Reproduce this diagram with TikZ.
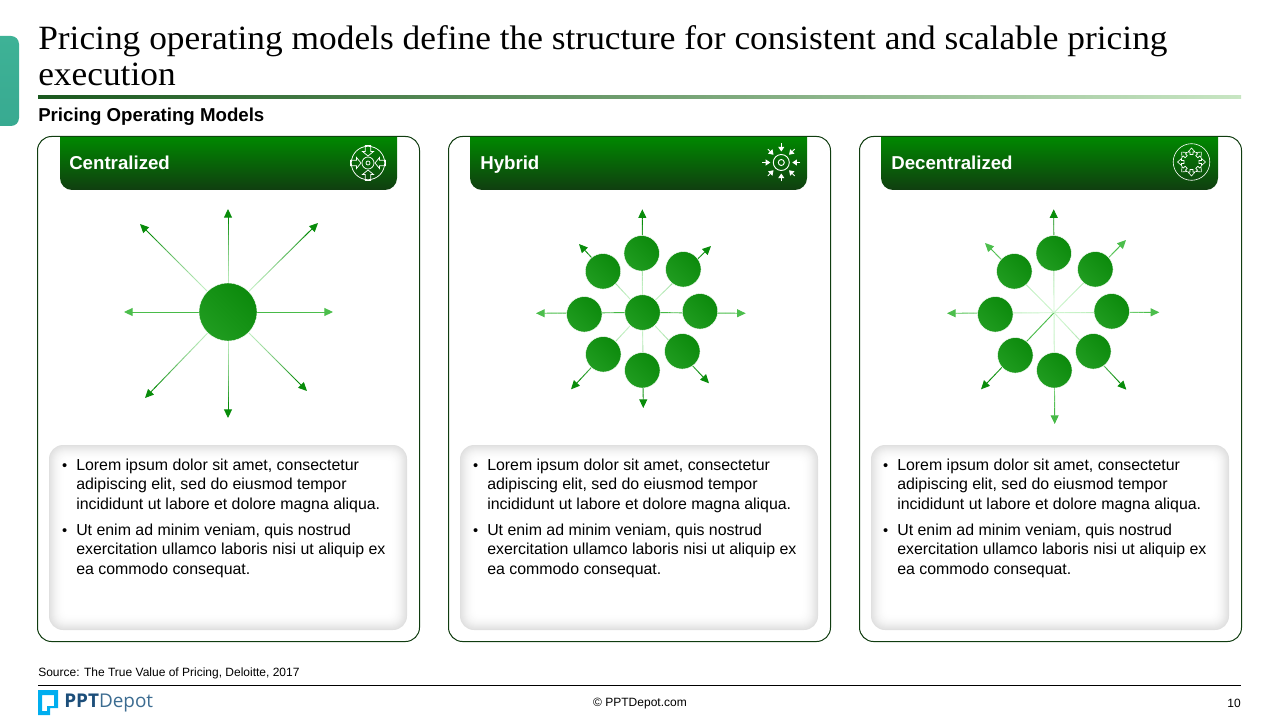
\documentclass[tikz,border=0pt]{standalone}
\usepackage{fontspec}
\setmainfont{Liberation Sans}
\newfontfamily\serifttl[FakeStretch=1.04]{Liberation Serif}
\newfontfamily\logofont{Open Sans}
\usetikzlibrary{arrows.meta,calc}
\definecolor{gdark}{RGB}{8,140,10}
\definecolor{gmid}{RGB}{76,190,76}
\definecolor{glight}{RGB}{205,245,205}
\definecolor{gmed}{RGB}{70,185,70}
\definecolor{panelline}{RGB}{16,60,16}
\definecolor{discA}{RGB}{12,138,12}
\definecolor{discB}{RGB}{32,156,32}
\definecolor{boxgray}{RGB}{224,224,224}
\definecolor{tabA}{RGB}{62,178,150}
\definecolor{tabB}{RGB}{56,170,145}
\definecolor{ruleA}{RGB}{26,88,30}
\definecolor{ruleB}{RGB}{105,170,105}
\definecolor{ruleC}{RGB}{200,230,195}
\definecolor{headA}{RGB}{0,136,0}
\definecolor{headB}{RGB}{16,62,16}
\definecolor{logocyan}{RGB}{0,174,239}
\definecolor{logoA}{RGB}{28,78,122}
\definecolor{logoB}{RGB}{60,108,145}
\pgfdeclarelayer{bg}
\pgfsetlayers{bg,main}
\tikzset{
  x=0.75pt,y=-0.75pt,
  panelbox/.style={draw=panelline,line width=0.75pt,rounded corners=10.5pt},
  headlabel/.style={anchor=base west,inner sep=0,text=white,font=\fontsize{14}{16}\selectfont\bfseries},
  disc/.style={circle,minimum size=26.6pt,inner sep=0,draw=white,line width=0.3pt,shading=axis,left color=discA,right color=discB,shading angle=315},
  bigdisc/.style={disc,minimum size=43.5pt},
  icon/.style={draw=white,line width=0.55pt},
  bodytext/.style={anchor=north west,inner sep=0,align=left,font=\fontsize{11.92}{14.55}\selectfont},
}
% gradient connector: from node/coordinate #1 to #2, colours #3 -> #4
\newcommand{\gconn}[4]{%
  \begin{pgfonlayer}{bg}
  \foreach \i [evaluate=\i as \p using int((\i/17)*(\i/17)*100), evaluate=\i as \q using (\i+1)/20, evaluate=\i as \r using \i/20] in {0,...,17}{%
    \draw[line width=0.7pt,color=#4!\p!#3] ($(#1)!\r!(#2)$) -- ($(#1)!\q!(#2)$);
  }
  \draw[line width=0.7pt,color=#4,-{Triangle[length=6.5pt,width=6pt]}] ($(#1)!0.9!(#2)$) -- (#2);
  \end{pgfonlayer}}
\newcommand{\softbox}[4]{%
  \foreach \k in {0,...,16}{%
    \pgfmathtruncatemacro\sh{100-100*(1-\k/16)*(1-\k/16)}
    \pgfmathsetmacro\rr{max(10.5-0.5*\k,3)}
    \draw[draw=none,fill=white!\sh!boxgray,rounded corners=\rr pt] (#1+\k,#2+\k) rectangle (#3-\k,#4-\k);
  }}
\newcommand{\bul}{\hspace*{-1.6pt}\makebox[10.6pt][l]{\fontsize{11}{11}\selectfont •}}
\newcommand{\loremtext}{%
\bul Lorem ipsum dolor sit amet, consectetur\\
\hspace*{9pt}adipiscing elit, sed do eiusmod tempor\\
\hspace*{9pt}incididunt ut labore et dolore magna aliqua.\\[5.2pt]
\bul Ut enim ad minim veniam, quis nostrud\\
\hspace*{9pt}exercitation ullamco laboris nisi ut aliquip ex\\
\hspace*{9pt}ea commodo consequat.}
\begin{document}
\begin{tikzpicture}
\useasboundingbox (0,0) rectangle (1280,720);
% tab
\begin{scope}
\clip (0,30) rectangle (19,130);
\path[shade,top color=tabA,bottom color=tabB,rounded corners=6pt] (-12,36) rectangle (19,126);
\end{scope}
% title
\node[anchor=north west,inner sep=0,align=left,font=\fontsize{25.5}{26.6}\selectfont\serifttl] (title) at (38,25.5) {Pricing operating models define the structure for consistent and scalable pricing\\execution};
\path[shade,left color=ruleA,middle color=ruleB,right color=ruleC] (38,96) rectangle (1241,99);
\node[anchor=base west,inner sep=0,font=\fontsize{14}{16}\selectfont\bfseries] (subt) at (38,122) {Pricing Operating Models};
% panels
\draw[panelbox] (37.5,136.5) rectangle (419.5,641.5);
\draw[panelbox] (448.5,136.5) rectangle (830.5,641.5);
\draw[panelbox] (859.5,136.5) rectangle (1241.5,641.5);
% headers
\foreach \hx in {60,470,881}{%
  \path[shade,top color=headA,bottom color=headB] (\hx,137) -- (\hx+337,137) [rounded corners=9pt] -- (\hx+337,190) -- (\hx,190) [sharp corners] -- cycle;
}
\node[headlabel] (h1) at (69,169.5) {Centralized};
\node[headlabel] (h2) at (480,169.5) {Hybrid};
\node[headlabel] (h3) at (891,169.5) {Decentralized};
% icon 1
\begin{scope}[shift={(368,163)}]
  \draw[icon] (0,0) circle (16.7);
  \draw[icon] (0,0) circle (6);
  \draw[icon] (0,0) circle (2);
  \foreach \a in {0,90,180,270}{%
    \draw[icon,fill=none,rotate=\a] (0,-7) -- (5.5,-11.5) -- (2.7,-11.5) -- (2.7,-17.5) -- (-2.7,-17.5) -- (-2.7,-11.5) -- (-5.5,-11.5) -- cycle;
  }
\end{scope}
% icon 2
\begin{scope}[shift={(781.3,162.5)}]
  \draw[icon,line width=0.7pt] (0,0) circle (8);
  \draw[icon,line width=0.7pt] (0,0) circle (3);
  \foreach \a in {0,45,...,315}{%
    \draw[icon,line width=0.6pt,rotate=\a,-{Triangle[length=3.5pt,width=4.5pt]}] (0,-19) -- (0,-11);
  }
\end{scope}
% icon 3
\begin{scope}[shift={(1191.5,162)}]
  \draw[icon,line width=0.45pt] (0,0) circle (18.3);
  \foreach \a in {0,45,...,315}{%
    \draw[icon,line width=0.45pt,rotate=\a] (-1.5,-7.5) -- (1.5,-7.5) -- (1.5,-10) -- (3.5,-10) -- (0,-14) -- (-3.5,-10) -- (-1.5,-10) -- cycle;
  }
\end{scope}
% centralized
\node[bigdisc] (c0) at (228,312) {};
\coordinate (ct1) at (228,209);\coordinate (ct2) at (318,223);\coordinate (ct3) at (333,312);\coordinate (ct4) at (307,391);
\coordinate (ct5) at (228,418);\coordinate (ct6) at (145,398);\coordinate (ct7) at (124,312);\coordinate (ct8) at (140,224);
\gconn{c0.center}{ct1}{glight}{gdark}\gconn{c0.center}{ct2}{glight}{gdark}\gconn{c0.center}{ct3}{gmed}{gmid}\gconn{c0.center}{ct4}{glight}{gdark}
\gconn{c0.center}{ct5}{glight}{gdark}\gconn{c0.center}{ct6}{glight}{gdark}\gconn{c0.center}{ct7}{gmed}{gmid}\gconn{c0.center}{ct8}{glight}{gdark}
% hybrid
\node[disc] (h0) at (642.5,312.5) {};
\node[disc] (hA) at (641.7,253.3) {};
\node[disc] (hB) at (683.3,269.3) {};
\node[disc] (hC) at (700,311.3) {};
\node[disc] (hD) at (682.3,351.3) {};
\node[disc] (hE) at (642.3,370.3) {};
\node[disc] (hF) at (603.3,354.3) {};
\node[disc] (hG) at (584.3,314.3) {};
\node[disc] (hH) at (603,271.3) {};
\coordinate (ht1) at (642.3,209.3);\coordinate (ht2) at (711,246);\coordinate (ht3) at (745.7,313.3);\coordinate (ht4) at (709,383.3);
\coordinate (ht5) at (643.3,408);\coordinate (ht6) at (571,389.3);\coordinate (ht7) at (536,313.3);\coordinate (ht8) at (579,244);
\gconn{h0.center}{ht1}{glight}{gdark}\gconn{h0.center}{ht2}{glight}{gdark}\gconn{h0.center}{ht3}{gmed}{gmid}\gconn{h0.center}{ht4}{glight}{gdark}
\gconn{h0.center}{ht5}{glight}{gdark}\gconn{h0.center}{ht6}{glight}{gdark}\gconn{h0.center}{ht7}{gmed}{gmid}\gconn{h0.center}{ht8}{glight}{gdark}
% decentralized
\coordinate (d0) at (1054,312.7);
\node[disc] (dA) at (1053.7,253.3) {};
\node[disc] (dB) at (1095.3,269.3) {};
\node[disc] (dC) at (1111.7,311.3) {};
\node[disc] (dD) at (1093.3,351.3) {};
\node[disc] (dE) at (1054.3,370.3) {};
\node[disc] (dF) at (1015.3,355.3) {};
\node[disc] (dG) at (995.3,314.3) {};
\node[disc] (dH) at (1014.3,271.3) {};
\coordinate (dt1) at (1053.7,209.3);\coordinate (dt2) at (1126,240);\coordinate (dt3) at (1159.3,312.3);\coordinate (dt4) at (1126.3,389.7);
\coordinate (dt5) at (1054.7,424);\coordinate (dt6) at (981,389.3);\coordinate (dt7) at (947,313.3);\coordinate (dt8) at (985,243);
\gconn{d0}{dt1}{glight}{gdark}\gconn{d0}{dt2}{glight}{gmid}\gconn{d0}{dt3}{glight}{gmid}\gconn{d0}{dt4}{glight}{gdark}
\gconn{d0}{dt5}{glight}{gmed}\gconn{d0}{dt6}{gmid}{gdark}\gconn{d0}{dt7}{glight}{gmid}\gconn{d0}{dt8}{glight}{gmid}
% text boxes
\softbox{49}{445}{407}{630}
\softbox{460}{445}{818}{630}
\softbox{871}{445}{1229}{630}
\node[bodytext] (t1) at (64,458.5) {\loremtext};
\node[bodytext] (t2) at (475,458.5) {\loremtext};
\node[bodytext] (t3) at (885,458.5) {\loremtext};
% footer
\node[anchor=base west,inner sep=0,font=\fontsize{9}{11}\selectfont] (src) at (38,676) {Source: The True Value of Pricing, Deloitte, 2017};
\draw[line width=0.75pt] (38,685.5) -- (1241,685.5);
\node[inner sep=0,font=\fontsize{9}{11}\selectfont] (cp) at (640,703.5) {© PPTDepot.com};
\node[anchor=east,inner sep=0,font=\fontsize{9}{11}\selectfont] (pn) at (1241,703.5) {10};
\fill[logocyan,even odd rule] (38,690) -- (58,690) -- (58,708) -- (50,708) -- (50,715) -- (38,715) -- cycle
  (42,695) -- (54,695) -- (54,706) -- (47,706) -- (47,711) -- (42,711) -- cycle;
\node[anchor=base west,inner sep=0,font=\fontsize{14.2}{16}\selectfont\logofont] (logo) at (64,707.5) {\textcolor{logoA}{\textbf{PPT}}\textcolor{logoB}{Depot}};
\end{tikzpicture}
\end{document}
